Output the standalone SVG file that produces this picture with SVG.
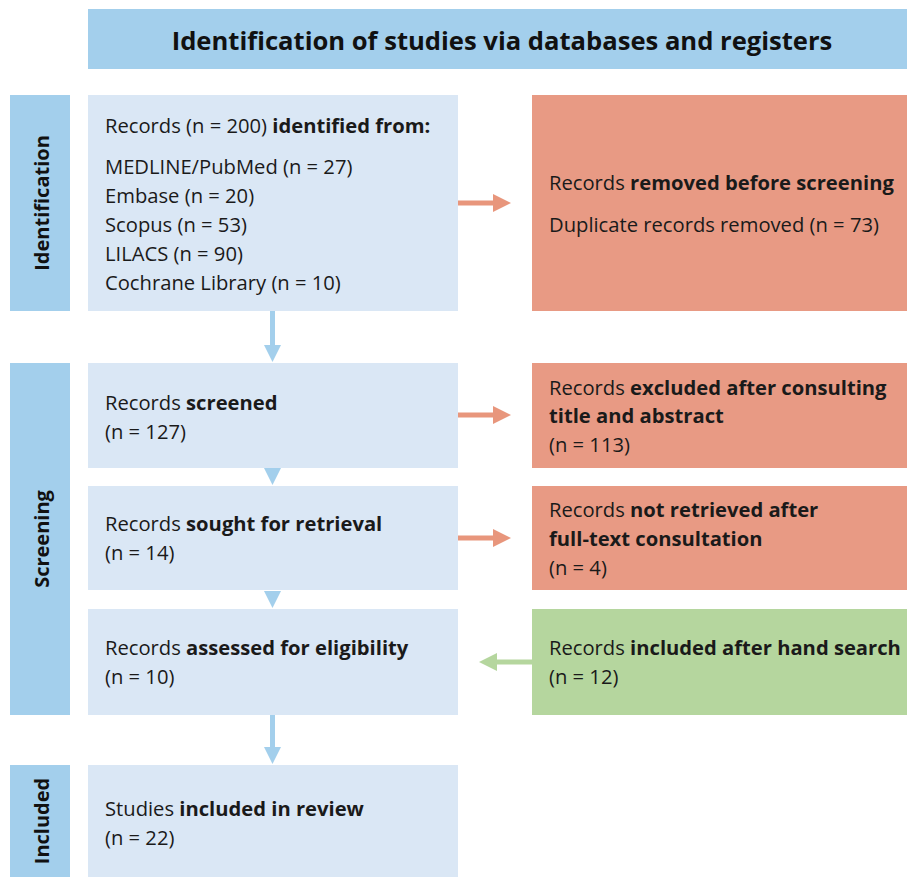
<svg xmlns="http://www.w3.org/2000/svg" width="907" height="877" viewBox="0 0 907 877">
<defs>
<style>
text{font-family:"Open Sans","Noto Sans","Liberation Sans",sans-serif;fill:#1a1a1a;font-size:20.2px}
.b{font-weight:bold}
.title{font-size:25.6px;font-weight:bold;fill:#111}
.side{font-size:20px;font-weight:bold;fill:#111}
.hdr{fill:#a3cfec}
.lb{fill:#dae7f5}
.rd{fill:#e89a84}
.gr{fill:#b5d69e}
</style>
</defs>
<rect x="0" y="0" width="907" height="877" fill="#ffffff"/>
<g id="header">
<rect class="hdr" x="88" y="9" width="819" height="60"/>
<text class="title" x="502" y="50" text-anchor="middle">Identification of studies via databases and registers</text>
</g>
<g id="phase-identification">
<rect class="hdr" x="10" y="95" width="60" height="216"/>
<text class="side" transform="translate(49,203) rotate(-90)" text-anchor="middle">Identification</text>
</g>
<g id="phase-screening">
<rect class="hdr" x="10" y="363" width="60" height="352"/>
<text class="side" transform="translate(49,539) rotate(-90)" text-anchor="middle">Screening</text>
</g>
<g id="phase-included">
<rect class="hdr" x="10" y="765" width="60" height="112"/>
<text class="side" transform="translate(49,821) rotate(-90)" text-anchor="middle">Included</text>
</g>
<g id="identified">
<rect class="lb" x="88" y="95" width="370" height="216"/>
<text x="105" y="133">Records (n = 200) <tspan class="b">identified from:</tspan></text>
<text x="105" y="174">MEDLINE/PubMed (n = 27)</text>
<text x="105" y="203">Embase (n = 20)</text>
<text x="105" y="232">Scopus (n = 53)</text>
<text x="105" y="261">LILACS (n = 90)</text>
<text x="105" y="290">Cochrane Library (n = 10)</text>
</g>
<g id="removed">
<rect class="rd" x="532" y="95" width="375" height="216"/>
<text x="549" y="190">Records <tspan class="b">removed before screening</tspan></text>
<text x="549" y="232">Duplicate records removed (n = 73)</text>
</g>
<g id="screened">
<rect class="lb" x="88" y="363" width="370" height="105"/>
<text x="105" y="410">Records <tspan class="b">screened</tspan></text>
<text x="105" y="439">(n = 127)</text>
</g>
<g id="excluded">
<rect class="rd" x="532" y="363" width="375" height="105"/>
<text x="549" y="395">Records <tspan class="b">excluded after consulting</tspan></text>
<text x="549" y="423" class="b">title and abstract</text>
<text x="549" y="452">(n = 113)</text>
</g>
<g id="sought">
<rect class="lb" x="88" y="486" width="370" height="104"/>
<text x="105" y="531">Records <tspan class="b">sought for retrieval</tspan></text>
<text x="105" y="560">(n = 14)</text>
</g>
<g id="not-retrieved">
<rect class="rd" x="532" y="486" width="375" height="104"/>
<text x="549" y="517">Records <tspan class="b">not retrieved after</tspan></text>
<text x="549" y="546" class="b">full-text consultation</text>
<text x="549" y="575">(n = 4)</text>
</g>
<g id="assessed">
<rect class="lb" x="88" y="609" width="370" height="106"/>
<text x="105" y="655">Records <tspan class="b">assessed for eligibility</tspan></text>
<text x="105" y="684">(n = 10)</text>
</g>
<g id="hand-search">
<rect class="gr" x="532" y="609" width="375" height="106"/>
<text x="549" y="655">Records <tspan class="b">included after hand search</tspan></text>
<text x="549" y="684">(n = 12)</text>
</g>
<g id="included">
<rect class="lb" x="88" y="765" width="370" height="112"/>
<text x="105" y="816">Studies <tspan class="b">included in review</tspan></text>
<text x="105" y="845">(n = 22)</text>
</g>
<g id="connectors">
<rect x="458" y="200.5" width="36" height="5" fill="#e8967c"/>
<polygon points="493,194 511,203 493,212" fill="#e8967c"/>
<rect x="458" y="412.5" width="36" height="5" fill="#e8967c"/>
<polygon points="493,406 511,415 493,424" fill="#e8967c"/>
<rect x="458" y="535.5" width="36" height="5" fill="#e8967c"/>
<polygon points="493,529 511,538 493,547" fill="#e8967c"/>
<rect x="496" y="659.5" width="36" height="5" fill="#b5d69e"/>
<polygon points="497,653 479,662 497,671" fill="#b5d69e"/>
<rect x="270" y="311" width="5" height="35" fill="#a3cfec"/>
<polygon points="264,345 281,345 272.5,362" fill="#a3cfec"/>
<polygon points="264,468 281,468 272.5,485" fill="#a3cfec"/>
<polygon points="264,591 281,591 272.5,608" fill="#a3cfec"/>
<rect x="270" y="715" width="5" height="33" fill="#a3cfec"/>
<polygon points="264,747 281,747 272.5,764" fill="#a3cfec"/>
</g>
</svg>
